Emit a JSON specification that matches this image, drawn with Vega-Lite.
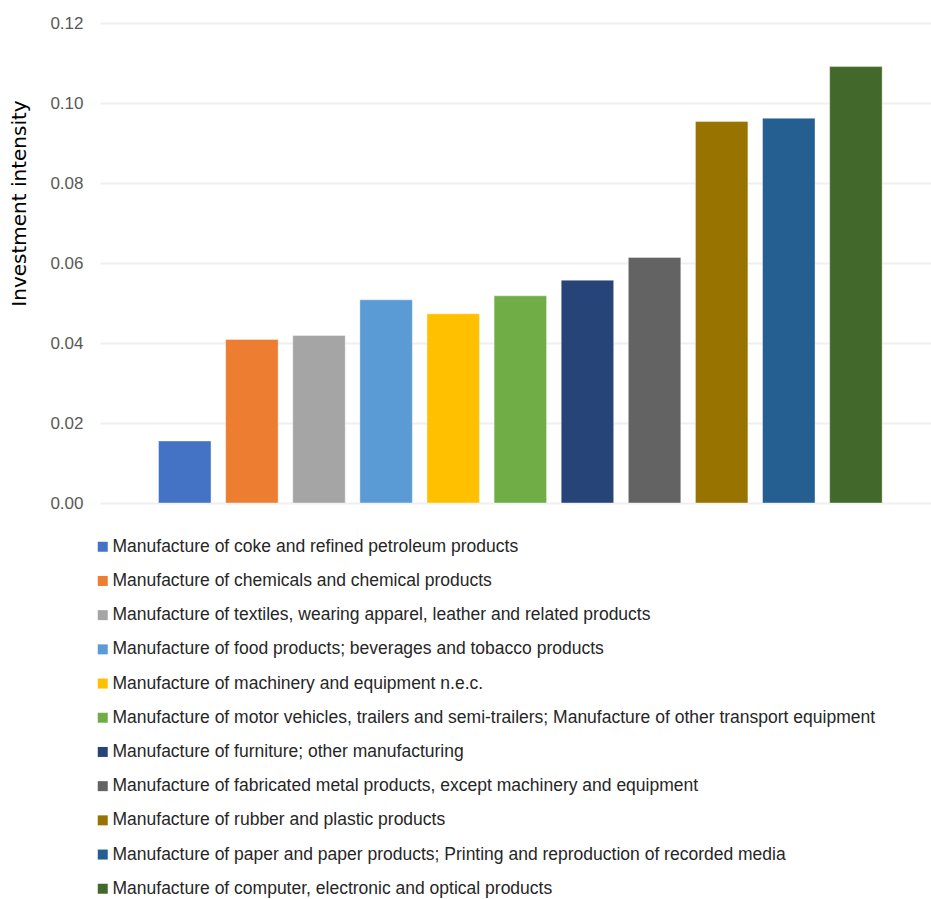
{
  "$schema": "https://vega.github.io/schema/vega-lite/v6.json",
  "width": 831,
  "height": 480,
  "autosize": {"type": "none"},
  "padding": {"left": 100, "top": 23, "right": 0, "bottom": 396},
  "background": "white",
  "config": {
    "view": {"stroke": null},
    "font": "Liberation Sans"
  },
  "data": {
    "values": [
      {"sector": "Manufacture of coke and refined petroleum products", "value": 0.0155},
      {"sector": "Manufacture of chemicals and chemical products", "value": 0.0409},
      {"sector": "Manufacture of textiles, wearing apparel, leather and related products", "value": 0.0419},
      {"sector": "Manufacture of food products; beverages and tobacco products", "value": 0.0508},
      {"sector": "Manufacture of machinery and equipment n.e.c.", "value": 0.0473},
      {"sector": "Manufacture of motor vehicles, trailers and semi-trailers; Manufacture of other transport equipment", "value": 0.0518},
      {"sector": "Manufacture of furniture; other manufacturing", "value": 0.0557},
      {"sector": "Manufacture of fabricated metal products, except machinery and equipment", "value": 0.0614},
      {"sector": "Manufacture of rubber and plastic products", "value": 0.0954},
      {"sector": "Manufacture of paper and paper products; Printing and reproduction of recorded media", "value": 0.0962},
      {"sector": "Manufacture of computer, electronic and optical products", "value": 0.1091}
    ]
  },
  "mark": {"type": "bar", "stroke": "white", "strokeOpacity": 0.5, "strokeWidth": 0.8},
  "encoding": {
    "x": {
      "field": "sector",
      "type": "nominal",
      "sort": null,
      "scale": {"paddingInner": 0.218, "paddingOuter": 0.8, "align": 0.545},
      "axis": null
    },
    "y": {
      "field": "value",
      "type": "quantitative",
      "scale": {"domain": [0, 0.12]},
      "axis": {
        "values": [0, 0.02, 0.04, 0.06, 0.08, 0.1, 0.12],
        "format": ".2f",
        "title": "Investment intensity",
        "titleFont": "DejaVu Sans",
        "titleFontSize": 20,
        "titleFontWeight": "normal",
        "titleColor": "#000000",
        "titleAngle": -90,
        "titleX": -75,
        "titleY": 180,
        "titleAlign": "center",
        "titleBaseline": "alphabetic",
        "labelFontSize": 17,
        "labelColor": "#595959",
        "labelPadding": 17,
        "ticks": false,
        "domain": false,
        "grid": true,
        "gridColor": "#efefef",
        "gridWidth": 2
      }
    },
    "color": {
      "field": "sector",
      "type": "nominal",
      "scale": {
        "domain": [
          "Manufacture of coke and refined petroleum products",
          "Manufacture of chemicals and chemical products",
          "Manufacture of textiles, wearing apparel, leather and related products",
          "Manufacture of food products; beverages and tobacco products",
          "Manufacture of machinery and equipment n.e.c.",
          "Manufacture of motor vehicles, trailers and semi-trailers; Manufacture of other transport equipment",
          "Manufacture of furniture; other manufacturing",
          "Manufacture of fabricated metal products, except machinery and equipment",
          "Manufacture of rubber and plastic products",
          "Manufacture of paper and paper products; Printing and reproduction of recorded media",
          "Manufacture of computer, electronic and optical products"
        ],
        "range": ["#4472C4", "#ED7D31", "#A5A5A5", "#5B9BD5", "#FFC000", "#70AD47", "#264478", "#636363", "#997300", "#255E91", "#43682B"]
      },
      "legend": {
        "orient": "none",
        "legendX": -6,
        "legendY": 515,
        "title": null,
        "symbolType": "square",
        "symbolSize": 100,
        "symbolStrokeWidth": 0,
        "labelFontSize": 17.5,
        "labelColor": "#262626",
        "labelLimit": 900,
        "labelOffset": 1,
        "rowPadding": 15.2,
        "padding": 0
      }
    }
  }
}
